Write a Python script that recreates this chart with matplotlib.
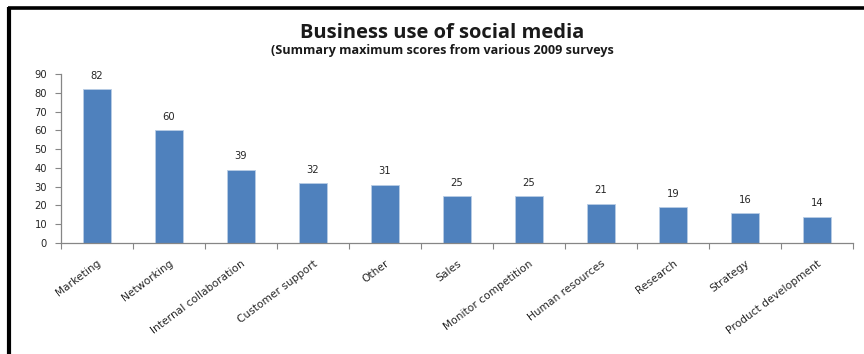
import matplotlib
matplotlib.use("Agg")
import matplotlib.pyplot as plt
from matplotlib.lines import Line2D

categories = ["Marketing", "Networking", "Internal collaboration", "Customer support",
              "Other", "Sales", "Monitor competition", "Human resources",
              "Research", "Strategy", "Product development"]
scores = [82, 60, 39, 32, 31, 25, 25, 21, 19, 16, 14]
y_ticks = [0, 10, 20, 30, 40, 50, 60, 70, 80, 90]

title = "Business use of social media"
subtitle = "(Summary maximum scores from various 2009 surveys"

W, H, DPI = 864, 354, 100
fig = plt.figure(figsize=(W / DPI, H / DPI), dpi=DPI)
fig.patch.set_facecolor("white")

ax = fig.add_axes([61 / W, 1 - 243 / H, (853 - 61) / W, (243 - 74) / H])

bar_color = "#4F81BD"
axis_gray = "#868686"
text_dark = "#262626"

x = list(range(len(categories)))
ax.bar(x, scores, width=0.4, color=bar_color, edgecolor="#B9CDE5", linewidth=0.6, zorder=2)

for xi, v in zip(x, scores):
    ax.annotate(str(v), (xi, v), xytext=(0, 6), textcoords="offset points",
                ha="center", va="bottom", fontsize=7.2, color=text_dark,
                family="DejaVu Sans")

ax.set_xlim(-0.5, len(categories) - 0.5)
ax.set_ylim(0, 90)
ax.set_yticks(y_ticks)
ax.set_yticklabels([str(t) for t in y_ticks], fontsize=7.2, color=text_dark)

# category ticks sit on the boundaries between bars
ax.set_xticks([i - 0.5 for i in range(len(categories) + 1)], minor=False)
ax.set_xticklabels([])
ax.set_xticks(x, minor=True)
ax.set_xticklabels(categories, minor=True, rotation=37, ha="right", va="top",
                   rotation_mode="anchor", fontsize=7.7, color=text_dark,
                   family="DejaVu Sans")
ax.tick_params(axis="x", which="minor", length=0, pad=11)
ax.tick_params(axis="x", which="major", length=4, color=axis_gray, width=0.8)
ax.tick_params(axis="y", length=4, color=axis_gray, width=0.8, pad=6)

for side in ("top", "right"):
    ax.spines[side].set_visible(False)
for side in ("left", "bottom"):
    ax.spines[side].set_color(axis_gray)
    ax.spines[side].set_linewidth(0.9)

fig.text(442 / W, 1 - 33.5 / H, title, ha="center", va="center",
         fontsize=14.5, fontweight="bold", family="Open Sans", color="#1a1a1a")
fig.text(442 / W, 1 - 50.5 / H, subtitle, ha="center", va="center",
         fontsize=9.1, fontweight="bold", family="Open Sans", color="#1a1a1a")

# heavy frame lines along the top and left edges
fig.add_artist(Line2D([8 / W, 1.0], [1 - 7.8 / H, 1 - 7.8 / H],
                      transform=fig.transFigure, color="black", linewidth=2.6,
                      solid_capstyle="butt"))
fig.add_artist(Line2D([9 / W, 9 / W], [0, 1 - 6.5 / H],
                      transform=fig.transFigure, color="black", linewidth=3.0,
                      solid_capstyle="butt"))

fig.savefig("out.png", dpi=DPI, facecolor="white")
